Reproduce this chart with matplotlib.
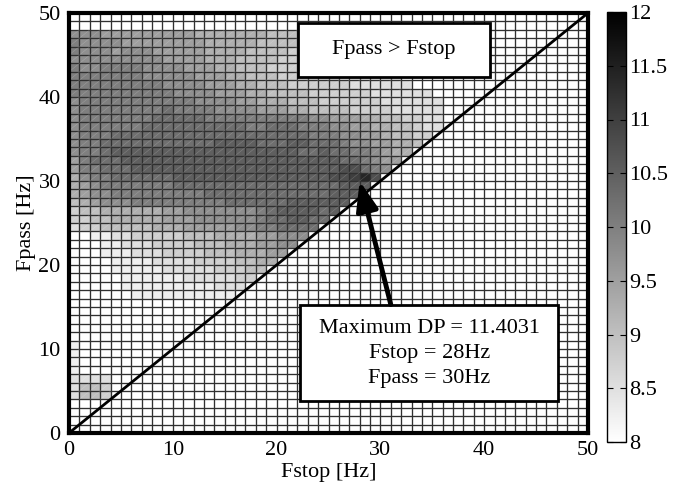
import numpy as np
import matplotlib
matplotlib.use("Agg")
import matplotlib.pyplot as plt
from matplotlib.collections import LineCollection
from matplotlib.patches import Rectangle

plt.rcParams["font.family"] = ["Liberation Serif", "DejaVu Serif"]
plt.rcParams["font.size"] = 16

# DP per 1 Hz cell. One char per Fstop cell (0..49),
# '.' = not computed, otherwise value = 8 + 0.25 * LEVELS.index(ch)
LEVELS = "0123456789ABCDEFG"
UPPER_FPASS = list(range(47, 15, -1))
UPPER_ROWS = [
    "77766 66666 66555 55554 44443 33333",
    "87777 66666 66655 55544 44433 33332",
    "87776 77766 66655 55444 43333 33322 2",
    "77777 77776 66655 54444 33333 33222 2",
    "87788 88777 76665 54443 33333 32222 22",
    "88888 88777 77666 55444 33333 32222 22",
    "88888 88887 77766 65544 43333 33222 222",
    "88888 88888 77776 66554 44433 33332 22222",
    "78888 88888 88777 76655 54443 33333 22222 2",
    "78888 88889 88887 77766 65544 44333 32222 2",
    "78888 88899 99988 88888 88877 66655 44332 2",
    "78888 88999 99999 99889 99888 77665 54432 2",
    "78889 99999 99999 99999 99988 87766 54433",
    "78899 99999 9999A AAA99 9AA99 98776 6554",
    "7889A AAAAA AAAAA AAAAA AA99A 99887 655",
    "68999 AAAAA AAAAA AAAAA AAAAA A9987 66",
    "68899 9AAAA AAAAA AAAAA AAAAA ABB98 7",
    "57889 99999 AAAAA AAAAA AAAAA BBCDB",
    "56788 88888 99999 99999 99999 9AAA",
    "56778 88888 88899 99999 99999 AAA",
    "45677 78888 88888 99999 9AAAA AA",
    "34455 55556 67777 77789 AAAA9 A",
    "33445 55556 66777 77789 9AA99",
    "23344 44455 56666 67788 9999",
    "..112 23333 34445 55566 777",
    "...11 22233 33444 55566 77",
    "...11 12223 33344 45556 6",
    "....1 11122 22333 34455",
    "....1 11112 22223 3344",
    "..... 11111 12222 233",
    "..... 11111 11112 22",
    "..... .1111 11111 1",
]
LOW_FPASS = [10, 9, 8, 7, 6, 5, 4]
LOW_ROWS = ["1", "1", "1", "1", "2222", "2443", "2443"]

MAX_DP = 11.4031
MAX_FSTOP = 28
MAX_FPASS = 30

N = 50
V_MIN, V_MAX = 8, 12


def decode(row):
    row = row.replace(" ", "").ljust(N, ".")
    return [np.nan if ch == "." else V_MIN + 0.25 * LEVELS.index(ch) for ch in row]


dp = np.full((N, N), np.nan)  # dp[fpass, fstop]
for fp, row in zip(UPPER_FPASS + LOW_FPASS, UPPER_ROWS + LOW_ROWS):
    dp[fp] = decode(row)
dp[MAX_FPASS, MAX_FSTOP] = MAX_DP

fig = plt.figure(figsize=(6.96, 4.93), dpi=100)
ax = fig.add_axes([69 / 696, 1 - 433 / 493, 519 / 696, 420 / 493])
cax = fig.add_axes([607 / 696, 1 - 442 / 493, 19 / 696, 430 / 493])

edges = np.arange(N + 1)
mesh = ax.pcolormesh(edges, edges, np.nan_to_num(dp, nan=V_MIN), cmap="gray_r",
                     vmin=V_MIN, vmax=V_MAX, edgecolors="none")
# cell borders, drawn antialiased so they come out ~1.5 px
ax.vlines(edges, 0, N, colors="#303030", lw=0.95)
ax.hlines(edges, 0, N, colors="#303030", lw=0.95)

# faint triangle seams that the original renderer leaves in filled cells
fp_idx, fs_idx = np.where(~np.isnan(dp))
segs = [[(i, j), (i + 1, j + 1)] for j, i in zip(fp_idx, fs_idx)]
ax.add_collection(LineCollection(segs, colors=[(1, 1, 1, 0.22)], linewidths=0.4))

ax.plot([0, N], [0, N], color="black", lw=2)

ax.set_xlim(0, N)
ax.set_ylim(0, N)
ax.set_xticks(range(0, 51, 10))
ax.set_yticks(range(0, 51, 10))
ax.tick_params(length=0, pad=6)
for s in ax.spines.values():
    s.set_linewidth(3)
ax.set_xlabel("Fstop [Hz]", labelpad=2)
ax.set_ylabel("Fpass [Hz]", labelpad=2)

# region label
ax.add_patch(Rectangle((22.1, 42.35), 18.45, 6.5, facecolor="white",
                       edgecolor="black", lw=2, zorder=5))
ax.text(31.3, 45.6, "Fpass > Fstop", ha="center", va="center", zorder=6)

# maximum annotation
ax.add_patch(Rectangle((22.25, 3.85), 24.85, 11.4, facecolor="white",
                       edgecolor="black", lw=2, zorder=5))
ax.text(34.7, 9.45, f"Maximum DP = {MAX_DP}\nFstop = {MAX_FSTOP}Hz\nFpass = {MAX_FPASS}Hz",
        ha="center", va="center", multialignment="center", linespacing=1.45, zorder=6)
ax.annotate("", xy=(MAX_FSTOP, MAX_FPASS), xytext=(31.0, 15.3),
            arrowprops=dict(arrowstyle="-|>,head_length=0.8,head_width=0.3",
                            color="black", lw=3.5, mutation_scale=22,
                            shrinkA=0, shrinkB=0), zorder=7)

cb = fig.colorbar(mesh, cax=cax)
cb.set_ticks(np.arange(8, 12.01, 0.5))
cb.set_ticklabels(["8", "8.5", "9", "9.5", "10", "10.5", "11", "11.5", "12"])
cax.tick_params(direction="in", length=4, width=0.8, left=True, right=True, pad=2)
cb.outline.set_linewidth(1)

fig.savefig("out.png", dpi=100)
